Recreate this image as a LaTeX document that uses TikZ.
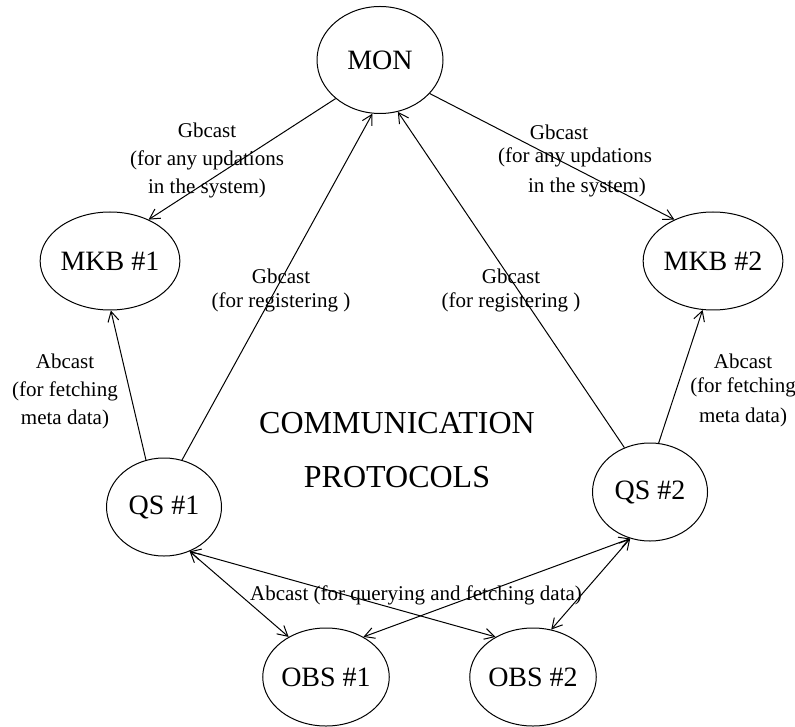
\documentclass[tikz,border=0pt]{standalone}
\usepackage{fontspec}
\setmainfont{Liberation Serif}
\usetikzlibrary{shapes.geometric,arrows.meta,positioning}

\begin{document}
\begin{tikzpicture}[
    x=0.5pt, y=-0.5pt,
    station/.style={ellipse, draw, line width=0.5pt, minimum width=57.5pt, minimum height=49pt, inner sep=0pt, font=\fontsize{14}{16}\selectfont},
    monitor/.style={station, minimum width=63pt, minimum height=53.5pt},
    lbl/.style={align=center, inner sep=1pt, font=\fontsize{10.5}{12}\selectfont},
    lblwide/.style={lbl, font=\fontsize{10.5}{14}\selectfont},
    arrow/.style={->, line width=0.5pt, >={Straight Barb[length=5pt,width=5.5pt]}},
    both/.style={arrow, <->}
]
\useasboundingbox (0,0) rectangle (795,726);

% Nodes
\node[monitor] (mon) at (380,60) {MON};
\node[station] (mkb1) at (110,261) {MKB \#1};
\node[station] (mkb2) at (713,261) {MKB \#2};
\node[station] (qs1) at (164,507) {QS \#1};
\node[station] (qs2) at (650,492) {QS \#2};
\node[station] (obs1) at (326,677) {OBS \#1};
\node[station] (obs2) at (533,677) {OBS \#2};

% Title
\node[align=center, font=\fontsize{16}{27}\selectfont] (comm) at (397,450) {COMMUNICATION\\PROTOCOLS};

% Connectors
\draw[arrow] (mon.221) -- (mkb1.47);
\draw[arrow] (mon.-34) -- (mkb2.133);
\draw[arrow] (qs1.69) -- (mon.262);
\draw[arrow] (qs2.120) -- (mon.-71);
\draw[arrow] (qs1.111) -- (mkb1.271);
\draw[arrow] (qs2.80) -- (mkb2.258);
\draw[both] (qs1.-60) -- (obs1.133);
\draw[both] (qs1.-60) -- (obs2.133);
\draw[both] (qs2.247) -- (obs1.47);
\draw[both] (qs2.247) -- (obs2.69);

% Labels
\node[lblwide] (upd1) at (207,160) {Gbcast\\(for any updations\\in the system)};
\node[lbl] (upd2a) at (559,132) {Gbcast};
\node[lbl] (upd2b) at (575,157) {(for any updations};
\node[lbl] (upd2c) at (587,187) {in the system)};
\node[lbl] (reg1) at (281,290) {Gbcast\\(for registering )};
\node[lbl] (reg2) at (511,290) {Gbcast\\(for registering )};
\node[lblwide] (fetch1) at (65,391) {Abcast\\(for fetching\\meta data)};
\node[lbl] (fetch2) at (743,390) {Abcast\\(for fetching\\[3pt]meta data)};
\node[lbl] (query) at (416,595) {Abcast (for querying and fetching data)};

\end{tikzpicture}
\end{document}
